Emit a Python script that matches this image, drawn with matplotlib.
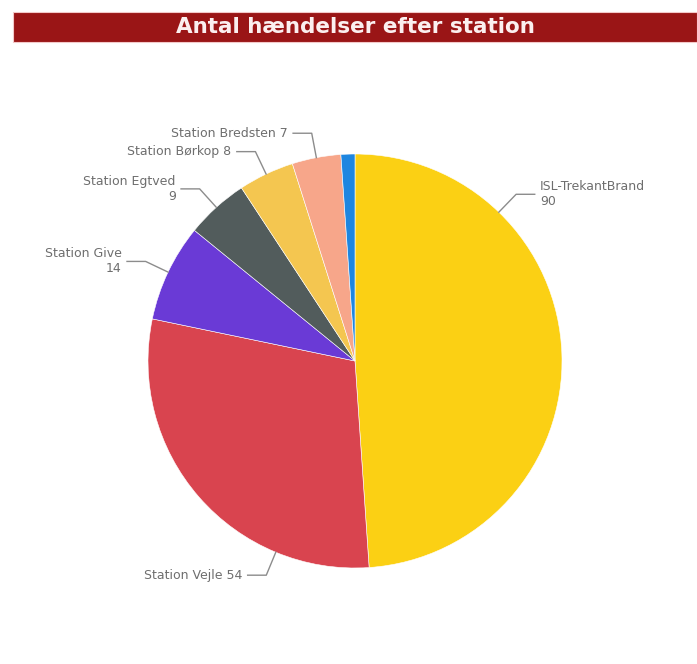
import numpy as np
import matplotlib.pyplot as plt
from matplotlib.patches import Rectangle

# events per station (blue sliver has no visible label in the source)
stations = ["ISL-TrekantBrand", "Station Vejle", "Station Give", "Station Egtved",
            "Station Børkop", "Station Bredsten", "Øvrige"]
counts = [90, 54, 14, 9, 8, 7, 2]
colors = ["#FBD014", "#D9444F", "#6A3AD6", "#525C5C", "#F4C650", "#F7A68A", "#1E86E0"]

# labels that Power BI wrapped onto two lines
wrapped = {"ISL-TrekantBrand", "Station Give", "Station Egtved"}

W, H = 697, 664
fig = plt.figure(figsize=(W / 100, H / 100), dpi=100)

# title bar
fig.patches.append(Rectangle((13 / W, 1 - 42 / H), 1 - 13 / W, 30 / H,
                             transform=fig.transFigure, facecolor="#9A1516",
                             edgecolor="#F3C9C9", linewidth=0.8))
fig.text(355 / W, 1 - 27 / H, "Antal hændelser efter station", color="#FBEFEF",
         fontsize=15.5, fontweight="bold", family="DejaVu Sans",
         ha="center", va="center")

# pie: centre (355, 361) px, radius 207 px
cx, cy, r = 355, 361, 207
ax = fig.add_axes([(cx - r) / W, (H - cy - r) / H, 2 * r / W, 2 * r / H])
wedges, _ = ax.pie(counts, colors=colors, startangle=90, counterclock=False,
                   radius=1, wedgeprops=dict(edgecolor="white", linewidth=0.4))
ax.set_xlim(-1, 1)
ax.set_ylim(-1, 1)
ax.axis("off")

for w, name, val in zip(wedges, stations, counts):
    span = w.theta2 - w.theta1
    if span < 5:
        continue
    frac = 0.25 if span > 90 else 0.5
    ang = np.deg2rad(w.theta2 - frac * span)
    x0, y0 = np.cos(ang), np.sin(ang)
    x1, y1 = 1.12 * x0, 1.12 * y0
    side = 1 if x0 > 0 else -1
    x2 = x1 + side * 0.09
    ax.plot([x0, x1, x2], [y0, y1, y1], color="#8C8C8C", lw=1, clip_on=False)
    txt = f"{name}\n{val}" if name in wrapped else f"{name} {val}"
    ax.text(x2 + side * 0.025, y1, txt, ha="left" if side > 0 else "right",
            va="center", multialignment="left" if side > 0 else "right",
            fontsize=9, color="#6E6E6E", linespacing=1.2, clip_on=False)

fig.savefig("out.png", dpi=100, facecolor="white")
